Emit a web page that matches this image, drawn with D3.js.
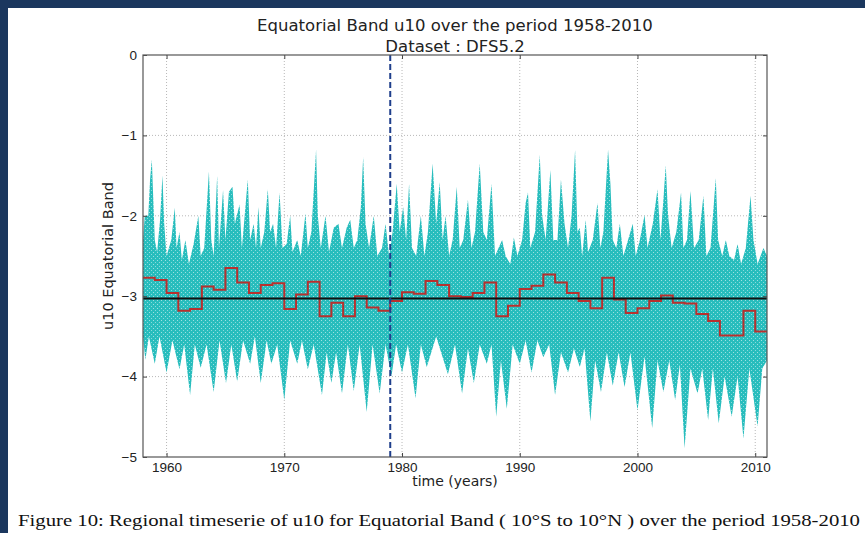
<!DOCTYPE html>
<html>
<head>
<meta charset="utf-8">
<script src="https://cdn.jsdelivr.net/npm/d3@7"></script>
<style>
  body { margin: 0; background: #ffffff; }
  svg { display: block; }
</style>
</head>
<body>
<div id="chart"></div>
<script>
// annual means (red steps), one per year 1958..2010
var years = d3.range(1958, 2011)
var annualMean = [-2.77, -2.80, -2.96, -3.18, -3.16, -2.88, -2.92, -2.65, -2.83, -2.96,
  -2.86, -2.84, -3.16, -2.98, -2.82, -3.25, -3.08, -3.25, -3.00, -3.14,
  -3.18, -3.06, -2.95, -2.97, -2.81, -2.86, -3.00, -3.01, -2.96, -2.83,
  -3.25, -3.12, -2.91, -2.87, -2.73, -2.83, -2.96, -3.06, -3.15, -2.77,
  -3.04, -3.21, -3.15, -3.06, -2.99, -3.08, -3.09, -3.22, -3.31, -3.49,
  -3.49, -3.18, -3.44]
var periodMean = -3.03
var refYear = 1979.0

// upper edge of the cyan cloud: [year, u10]
var upperEdge = [[1958.0, -2.3], [1958.15, -2.0], [1958.45, -2.0], [1958.6, -1.55], [1958.75, -1.3], [1958.85, -1.7],
  [1959.0, -2.3], [1959.2, -2.45], [1959.45, -2.05], [1959.65, -1.5], [1959.8, -2.1], [1960.0, -2.5],
  [1960.4, -2.3], [1960.7, -1.9], [1960.85, -2.4], [1961.1, -2.2], [1961.3, -2.55], [1961.6, -2.3],
  [1961.9, -2.6], [1962.3, -2.35], [1962.7, -2.0], [1962.9, -2.5], [1963.2, -2.4], [1963.6, -1.45],
  [1963.8, -2.3], [1964.0, -2.5], [1964.3, -1.5], [1964.45, -2.4], [1964.8, -1.68], [1965.0, -2.3],
  [1965.3, -1.7], [1965.6, -1.64], [1965.8, -2.1], [1966.2, -1.86], [1966.4, -2.4], [1966.9, -1.55],
  [1967.1, -2.3], [1967.4, -2.1], [1967.6, -2.4], [1967.8, -1.89], [1968.0, -2.4], [1968.3, -2.2],
  [1968.6, -1.67], [1968.8, -2.2], [1969.05, -2.1], [1969.3, -2.4], [1969.6, -1.71], [1969.85, -2.4],
  [1970.2, -2.35], [1970.5, -2.0], [1970.7, -2.45], [1971.1, -2.3], [1971.4, -2.5], [1971.8, -1.97],
  [1972.0, -2.4], [1972.3, -2.2], [1972.7, -1.18], [1972.85, -2.0], [1973.1, -2.4], [1973.5, -2.0],
  [1973.8, -2.45], [1974.2, -2.15], [1974.6, -2.1], [1974.9, -2.4], [1975.3, -2.15], [1975.6, -2.05],
  [1975.9, -2.4], [1976.2, -2.3], [1976.5, -1.9], [1976.7, -1.27], [1976.9, -2.1], [1977.2, -2.4],
  [1977.6, -2.0], [1977.9, -2.5], [1978.3, -2.4], [1978.6, -2.1], [1978.9, -2.5], [1979.2, -2.2],
  [1979.55, -1.6], [1979.8, -2.2], [1980.1, -1.89], [1980.35, -2.3], [1980.6, -1.6], [1980.85, -2.4],
  [1981.2, -2.5], [1981.6, -2.0], [1981.9, -2.5], [1982.2, -2.2], [1982.6, -1.35], [1982.9, -2.1],
  [1983.2, -1.58], [1983.45, -2.3], [1983.7, -2.0], [1984.0, -2.5], [1984.3, -2.3], [1984.65, -1.64],
  [1984.9, -2.4], [1985.2, -2.3], [1985.6, -1.8], [1985.9, -2.4], [1986.2, -2.2], [1986.6, -1.35],
  [1986.9, -2.2], [1987.2, -2.3], [1987.6, -1.6], [1987.9, -2.5], [1988.5, -2.3], [1988.8, -2.5],
  [1989.2, -2.6], [1989.5, -2.27], [1989.8, -2.5], [1990.2, -2.3], [1990.5, -1.84], [1990.7, -1.71],
  [1990.9, -2.4], [1991.3, -2.2], [1991.7, -1.24], [1991.9, -2.0], [1992.2, -2.3], [1992.6, -1.43],
  [1992.85, -2.3], [1993.2, -2.3], [1993.5, -1.55], [1993.8, -2.1], [1994.1, -2.4], [1994.4, -2.0],
  [1994.7, -1.18], [1994.9, -2.2], [1995.1, -2.15], [1995.3, -2.5], [1995.6, -2.05], [1995.8, -2.45],
  [1996.2, -2.3], [1996.6, -1.84], [1996.85, -2.4], [1997.1, -2.2], [1997.5, -1.18], [1997.7, -1.6],
  [1997.9, -2.3], [1998.2, -2.4], [1998.5, -2.1], [1998.8, -2.5], [1999.2, -2.3], [1999.6, -2.1],
  [1999.85, -2.5], [2000.2, -2.3], [2000.6, -1.99], [2000.85, -2.4], [2001.3, -2.1], [2001.7, -1.67],
  [2001.95, -2.3], [2002.2, -1.8], [2002.4, -1.37], [2002.6, -2.0], [2002.9, -2.4], [2003.3, -2.2],
  [2003.7, -1.71], [2003.9, -2.4], [2004.2, -2.3], [2004.5, -1.69], [2004.8, -2.4], [2005.2, -2.3],
  [2005.6, -1.75], [2005.85, -2.5], [2006.2, -2.4], [2006.65, -1.53], [2006.85, -2.3], [2007.2, -2.5],
  [2007.5, -2.3], [2007.8, -2.5], [2008.2, -2.55], [2008.5, -2.35], [2008.8, -2.6], [2009.2, -2.4],
  [2009.6, -1.75], [2009.85, -2.3], [2010.2, -2.6], [2010.7, -2.4], [2011.0, -2.5]]

// lower edge of the cyan cloud: [year, u10]
var lowerEdge = [[1958.0, -3.5], [1958.2, -3.79], [1958.5, -3.5], [1959.0, -3.84], [1959.4, -3.5], [1960.0, -3.95],
  [1960.5, -3.55], [1961.1, -3.91], [1961.5, -3.6], [1962.0, -4.23], [1962.4, -3.6], [1962.9, -3.89],
  [1963.4, -3.6], [1964.0, -4.19], [1964.5, -3.55], [1965.05, -4.08], [1965.5, -3.6], [1966.0, -4.06],
  [1966.5, -3.55], [1967.1, -3.84], [1967.5, -3.5], [1968.0, -4.08], [1968.5, -3.55], [1968.9, -3.84],
  [1969.4, -3.6], [1970.0, -4.29], [1970.5, -3.55], [1971.1, -3.84], [1971.5, -3.55], [1972.0, -3.91],
  [1972.5, -3.6], [1973.2, -4.23], [1973.6, -3.7], [1974.0, -4.08], [1974.4, -3.7], [1974.9, -4.21],
  [1975.4, -3.6], [1975.9, -4.18], [1976.4, -3.6], [1977.0, -4.44], [1977.5, -3.6], [1978.1, -4.21],
  [1978.6, -3.6], [1979.1, -4.0], [1979.5, -3.6], [1980.0, -3.95], [1980.5, -3.6], [1981.15, -4.27],
  [1981.6, -3.6], [1982.1, -3.88], [1982.9, -3.5], [1983.9, -3.97], [1984.5, -3.6], [1985.1, -4.21],
  [1985.6, -3.65], [1986.1, -4.08], [1986.6, -3.6], [1987.2, -3.84], [1987.6, -3.6], [1988.0, -4.5],
  [1988.4, -3.8], [1988.9, -4.4], [1989.4, -3.6], [1990.0, -3.84], [1990.5, -3.55], [1991.0, -3.95],
  [1991.5, -3.55], [1992.0, -3.76], [1992.5, -3.6], [1993.0, -4.23], [1993.5, -3.7], [1994.1, -3.95],
  [1994.6, -3.65], [1995.1, -3.88], [1995.5, -3.65], [1996.0, -4.56], [1996.4, -3.8], [1996.9, -4.19],
  [1997.4, -3.7], [1997.9, -4.11], [1998.4, -3.7], [1998.9, -4.13], [1999.4, -3.7], [2000.0, -4.42],
  [2000.6, -3.75], [2001.25, -4.64], [2001.7, -3.8], [2002.2, -4.19], [2002.7, -3.8], [2003.2, -4.29],
  [2003.6, -3.85], [2004.0, -4.89], [2004.5, -3.9], [2005.1, -4.21], [2005.5, -3.9], [2006.0, -4.54],
  [2006.4, -3.9], [2006.9, -4.58], [2007.4, -4.0], [2008.0, -4.5], [2008.5, -4.0], [2009.0, -4.77],
  [2009.5, -3.9], [2010.2, -4.62], [2010.6, -3.9], [2011.0, -3.8]]

var xTicks = [1960, 1970, 1980, 1990, 2000, 2010]
var yTicks = [0, -1, -2, -3, -4, -5]

var width = 865
var height = 533
var margin = { top: 55, right: 98, bottom: 76, left: 143 }

var svg = d3.select("#chart")
  .append("svg")
  .attr("width", width)
  .attr("height", height)
  .style("font-family", "DejaVu Sans, sans-serif")

// speckled fill, like a cloud of small dots
var pat = svg.append("defs")
  .append("pattern")
  .attr("id", "dots")
  .attr("patternUnits", "userSpaceOnUse")
  .attr("width", 4)
  .attr("height", 4)
pat.append("rect").attr("width", 4).attr("height", 4).style("fill", "#28bdbd")
pat.append("rect").attr("x", 1).attr("y", 0).attr("width", 1).attr("height", 1)
  .style("fill", "#ffffff").style("opacity", 0.55)
pat.append("rect").attr("x", 3).attr("y", 2).attr("width", 1).attr("height", 1)
  .style("fill", "#ffffff").style("opacity", 0.45)

// dark frame of the page the figure was cut from
svg.append("rect")
  .attr("x", 0).attr("y", 0).attr("width", width).attr("height", 8)
  .style("fill", "#1b375e")
svg.append("rect")
  .attr("x", 0).attr("y", 0).attr("width", 8).attr("height", height)
  .style("fill", "#1b375e")

var xScale = d3.scaleLinear()
  .domain([1958, 2011])
  .range([margin.left, width - margin.right])

var yScale = d3.scaleLinear()
  .domain([-5, 0])
  .range([height - margin.bottom, margin.top])

var fmt = d => d < 0 ? "\u2212" + Math.abs(d) : String(d)

// Grid
svg.append("g")
  .selectAll("line")
  .data(xTicks)
  .enter()
  .append("line")
  .attr("x1", d => xScale(d)).attr("x2", d => xScale(d))
  .attr("y1", margin.top).attr("y2", height - margin.bottom)
  .style("stroke", "#b8b8b8")
  .style("stroke-dasharray", "1,2")

svg.append("g")
  .selectAll("line")
  .data(yTicks.slice(1, 5))
  .enter()
  .append("line")
  .attr("x1", margin.left).attr("x2", width - margin.right)
  .attr("y1", d => yScale(d)).attr("y2", d => yScale(d))
  .style("stroke", "#b8b8b8")
  .style("stroke-dasharray", "1,2")

// cyan cloud: upper edge left to right, lower edge back
var cloud = d3.line()
  .x(d => xScale(d[0]))
  .y(d => yScale(d[1]))

svg.append("path")
  .attr("class", "cloud")
  .attr("d", cloud(upperEdge.concat(lowerEdge.slice().reverse())) + "Z")
  .style("fill", "url(#dots)")

// red annual steps
var stepData = years.map((y, i) => [y, annualMean[i]])
stepData.push([years[years.length - 1] + 1, annualMean[annualMean.length - 1]])

var steps = d3.line()
  .curve(d3.curveStepAfter)
  .x(d => xScale(d[0]))
  .y(d => yScale(d[1]))

svg.append("path")
  .attr("d", steps(stepData))
  .style("fill", "none")
  .style("stroke", "#b8302e")
  .style("stroke-width", 2)

// period mean
svg.append("line")
  .attr("x1", margin.left).attr("x2", width - margin.right)
  .attr("y1", yScale(periodMean)).attr("y2", yScale(periodMean))
  .style("stroke", "#111")
  .style("stroke-width", 2)

// reference year
svg.append("line")
  .attr("x1", xScale(refYear)).attr("x2", xScale(refYear))
  .attr("y1", margin.top).attr("y2", height - margin.bottom)
  .style("stroke", "#1f3f8c")
  .style("stroke-width", 2)
  .style("stroke-dasharray", "6,3")

// Axes
var xAxis = d3.axisBottom(xScale).tickValues(xTicks).tickFormat(d => d)
  .tickSizeInner(-4).tickSizeOuter(0).tickPadding(5)
var xAxisTop = d3.axisTop(xScale).tickValues(xTicks).tickFormat("")
  .tickSizeInner(-4).tickSizeOuter(0)
var yAxis = d3.axisLeft(yScale).tickValues(yTicks).tickFormat(fmt)
  .tickSizeInner(-4).tickSizeOuter(0).tickPadding(6)
var yAxisRight = d3.axisRight(yScale).tickValues(yTicks).tickFormat("")
  .tickSizeInner(-4).tickSizeOuter(0)

svg.append("g")
  .attr("transform", `translate(0,${height - margin.bottom})`)
  .call(xAxis)
  .call(g => g.select(".domain").remove())
  .selectAll("text")
  .style("font-size", "13.5px")
  .style("fill", "#222")

svg.append("g")
  .attr("transform", `translate(0,${margin.top})`)
  .call(xAxisTop)
  .call(g => g.select(".domain").remove())

svg.append("g")
  .attr("transform", `translate(${margin.left},0)`)
  .call(yAxis)
  .call(g => g.select(".domain").remove())
  .selectAll("text")
  .style("font-size", "13.5px")
  .style("fill", "#222")

svg.append("g")
  .attr("transform", `translate(${width - margin.right},0)`)
  .call(yAxisRight)
  .call(g => g.select(".domain").remove())

svg.selectAll(".tick line").style("stroke", "#444")

svg.append("rect")
  .attr("x", margin.left).attr("y", margin.top)
  .attr("width", width - margin.right - margin.left)
  .attr("height", height - margin.bottom - margin.top)
  .style("fill", "none")
  .style("stroke", "#555")
  .style("stroke-width", 1.2)

// Titles and labels
var cx = (margin.left + width - margin.right) / 2
svg.append("text")
  .attr("x", cx).attr("y", 31)
  .attr("text-anchor", "middle")
  .style("font-size", "16.5px")
  .style("fill", "#222")
  .text("Equatorial Band u10 over the period 1958-2010")
svg.append("text")
  .attr("x", cx).attr("y", 52)
  .attr("text-anchor", "middle")
  .style("font-size", "16.5px")
  .style("fill", "#222")
  .text("Dataset : DFS5.2")

svg.append("text")
  .attr("x", cx).attr("y", 486)
  .attr("text-anchor", "middle")
  .style("font-size", "14px")
  .style("fill", "#222")
  .text("time (years)")

svg.append("text")
  .attr("text-anchor", "middle")
  .attr("transform", `translate(113,${(margin.top + height - margin.bottom) / 2}) rotate(-90)`)
  .style("font-size", "14.5px")
  .style("fill", "#222")
  .text("u10 Equatorial Band")

svg.append("text")
  .attr("x", 18).attr("y", 526)
  .attr("textLength", 842)
  .attr("lengthAdjust", "spacingAndGlyphs")
  .style("font-family", "Liberation Serif, DejaVu Serif, serif")
  .style("font-size", "17px")
  .style("fill", "#111")
  .text("Figure 10: Regional timeserie of u10 for Equatorial Band ( 10°S to 10°N ) over the period 1958-2010")
</script>
</body>
</html>
